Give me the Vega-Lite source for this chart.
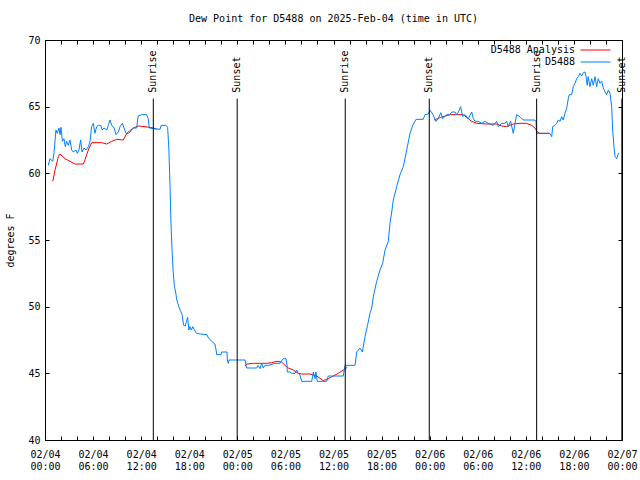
{
  "$schema": "https://vega.github.io/schema/vega-lite/v6.json",
  "width": 577,
  "height": 400,
  "autosize": "none",
  "padding": {"left": 45, "top": 40, "right": 18, "bottom": 40},
  "background": "white",
  "title": {"text": "Dew Point for D5488 on 2025-Feb-04 (time in UTC)", "font": "DejaVu Sans Mono", "fontSize": 10, "fontWeight": "normal", "color": "black", "offset": 11, "anchor": "middle"},
  "config": {
    "view": {"stroke": "black", "strokeWidth": 1},
    "axis": {"labelFont": "DejaVu Sans Mono", "labelFontSize": 10, "labelColor": "black", "titleFont": "DejaVu Sans Mono", "titleFontSize": 10, "titleFontWeight": "normal", "titleColor": "black", "grid": false, "domain": false, "tickColor": "black", "tickSize": -4, "labelOverlap": false, "labelFlush": false}
  },
  "datasets": {
    "ana": [
      {"t": "2025-02-04T00:58:00Z", "v": 59.4, "series": "D5488 Analysis", "seg": 1},
      {"t": "2025-02-04T01:15:00Z", "v": 60.25, "series": "D5488 Analysis", "seg": 1},
      {"t": "2025-02-04T01:40:00Z", "v": 61.25, "series": "D5488 Analysis", "seg": 1},
      {"t": "2025-02-04T01:52:00Z", "v": 61.45, "series": "D5488 Analysis", "seg": 1},
      {"t": "2025-02-04T02:30:00Z", "v": 61.1, "series": "D5488 Analysis", "seg": 1},
      {"t": "2025-02-04T03:07:00Z", "v": 60.9, "series": "D5488 Analysis", "seg": 1},
      {"t": "2025-02-04T03:44:00Z", "v": 60.7, "series": "D5488 Analysis", "seg": 1},
      {"t": "2025-02-04T04:47:00Z", "v": 60.7, "series": "D5488 Analysis", "seg": 1},
      {"t": "2025-02-04T04:59:00Z", "v": 61.0, "series": "D5488 Analysis", "seg": 1},
      {"t": "2025-02-04T05:24:00Z", "v": 61.75, "series": "D5488 Analysis", "seg": 1},
      {"t": "2025-02-04T05:50:00Z", "v": 62.3, "series": "D5488 Analysis", "seg": 1},
      {"t": "2025-02-04T07:05:00Z", "v": 62.3, "series": "D5488 Analysis", "seg": 1},
      {"t": "2025-02-04T07:42:00Z", "v": 62.2, "series": "D5488 Analysis", "seg": 1},
      {"t": "2025-02-04T08:19:00Z", "v": 62.4, "series": "D5488 Analysis", "seg": 1},
      {"t": "2025-02-04T08:57:00Z", "v": 62.55, "series": "D5488 Analysis", "seg": 1},
      {"t": "2025-02-04T09:46:00Z", "v": 62.5, "series": "D5488 Analysis", "seg": 1},
      {"t": "2025-02-04T10:12:00Z", "v": 63.0, "series": "D5488 Analysis", "seg": 1},
      {"t": "2025-02-04T11:01:00Z", "v": 63.4, "series": "D5488 Analysis", "seg": 1},
      {"t": "2025-02-04T11:38:00Z", "v": 63.55, "series": "D5488 Analysis", "seg": 1},
      {"t": "2025-02-04T12:29:00Z", "v": 63.5, "series": "D5488 Analysis", "seg": 1},
      {"t": "2025-02-04T13:31:00Z", "v": 63.4, "series": "D5488 Analysis", "seg": 1},
      {"t": "2025-02-04T13:56:00Z", "v": 63.3, "series": "D5488 Analysis", "seg": 1},
      {"t": "2025-02-05T00:58:00Z", "v": 45.55, "series": "D5488 Analysis", "seg": 2},
      {"t": "2025-02-05T01:10:00Z", "v": 45.7, "series": "D5488 Analysis", "seg": 2},
      {"t": "2025-02-05T02:00:00Z", "v": 45.75, "series": "D5488 Analysis", "seg": 2},
      {"t": "2025-02-05T03:02:00Z", "v": 45.75, "series": "D5488 Analysis", "seg": 2},
      {"t": "2025-02-05T03:40:00Z", "v": 45.75, "series": "D5488 Analysis", "seg": 2},
      {"t": "2025-02-05T04:17:00Z", "v": 45.8, "series": "D5488 Analysis", "seg": 2},
      {"t": "2025-02-05T04:55:00Z", "v": 45.9, "series": "D5488 Analysis", "seg": 2},
      {"t": "2025-02-05T05:32:00Z", "v": 45.85, "series": "D5488 Analysis", "seg": 2},
      {"t": "2025-02-05T05:57:00Z", "v": 45.6, "series": "D5488 Analysis", "seg": 2},
      {"t": "2025-02-05T06:22:00Z", "v": 45.4, "series": "D5488 Analysis", "seg": 2},
      {"t": "2025-02-05T06:59:00Z", "v": 45.25, "series": "D5488 Analysis", "seg": 2},
      {"t": "2025-02-05T07:36:00Z", "v": 45.0, "series": "D5488 Analysis", "seg": 2},
      {"t": "2025-02-05T08:02:00Z", "v": 44.95, "series": "D5488 Analysis", "seg": 2},
      {"t": "2025-02-05T09:04:00Z", "v": 44.95, "series": "D5488 Analysis", "seg": 2},
      {"t": "2025-02-05T09:54:00Z", "v": 44.8, "series": "D5488 Analysis", "seg": 2},
      {"t": "2025-02-05T10:44:00Z", "v": 44.45, "series": "D5488 Analysis", "seg": 2},
      {"t": "2025-02-05T11:21:00Z", "v": 44.6, "series": "D5488 Analysis", "seg": 2},
      {"t": "2025-02-05T11:58:00Z", "v": 44.8, "series": "D5488 Analysis", "seg": 2},
      {"t": "2025-02-05T12:36:00Z", "v": 45.0, "series": "D5488 Analysis", "seg": 2},
      {"t": "2025-02-05T13:13:00Z", "v": 45.25, "series": "D5488 Analysis", "seg": 2},
      {"t": "2025-02-05T13:43:00Z", "v": 45.45, "series": "D5488 Analysis", "seg": 2},
      {"t": "2025-02-06T00:32:00Z", "v": 64.0, "series": "D5488 Analysis", "seg": 3},
      {"t": "2025-02-06T00:58:00Z", "v": 64.1, "series": "D5488 Analysis", "seg": 3},
      {"t": "2025-02-06T01:23:00Z", "v": 64.2, "series": "D5488 Analysis", "seg": 3},
      {"t": "2025-02-06T02:32:00Z", "v": 64.4, "series": "D5488 Analysis", "seg": 3},
      {"t": "2025-02-06T04:12:00Z", "v": 64.4, "series": "D5488 Analysis", "seg": 3},
      {"t": "2025-02-06T04:49:00Z", "v": 64.1, "series": "D5488 Analysis", "seg": 3},
      {"t": "2025-02-06T05:15:00Z", "v": 63.9, "series": "D5488 Analysis", "seg": 3},
      {"t": "2025-02-06T05:52:00Z", "v": 63.75, "series": "D5488 Analysis", "seg": 3},
      {"t": "2025-02-06T07:07:00Z", "v": 63.7, "series": "D5488 Analysis", "seg": 3},
      {"t": "2025-02-06T08:22:00Z", "v": 63.7, "series": "D5488 Analysis", "seg": 3},
      {"t": "2025-02-06T08:59:00Z", "v": 63.55, "series": "D5488 Analysis", "seg": 3},
      {"t": "2025-02-06T09:36:00Z", "v": 63.5, "series": "D5488 Analysis", "seg": 3},
      {"t": "2025-02-06T10:00:00Z", "v": 63.6, "series": "D5488 Analysis", "seg": 3},
      {"t": "2025-02-06T10:26:00Z", "v": 63.7, "series": "D5488 Analysis", "seg": 3},
      {"t": "2025-02-06T11:16:00Z", "v": 63.75, "series": "D5488 Analysis", "seg": 3},
      {"t": "2025-02-06T12:06:00Z", "v": 63.75, "series": "D5488 Analysis", "seg": 3},
      {"t": "2025-02-06T12:44:00Z", "v": 63.6, "series": "D5488 Analysis", "seg": 3},
      {"t": "2025-02-06T13:08:00Z", "v": 63.4, "series": "D5488 Analysis", "seg": 3},
      {"t": "2025-02-06T13:26:00Z", "v": 63.1, "series": "D5488 Analysis", "seg": 3},
      {"t": "2025-02-06T13:46:00Z", "v": 63.0, "series": "D5488 Analysis", "seg": 3},
      {"t": "2025-02-06T15:00:00Z", "v": 63.0, "series": "D5488 Analysis", "seg": 3}
    ],
    "obs": [
      {"t": "2025-02-04T00:25:00Z", "v": 60.6, "series": "D5488"},
      {"t": "2025-02-04T00:37:00Z", "v": 61.1, "series": "D5488"},
      {"t": "2025-02-04T00:58:00Z", "v": 60.9, "series": "D5488"},
      {"t": "2025-02-04T01:07:00Z", "v": 61.5, "series": "D5488"},
      {"t": "2025-02-04T01:22:00Z", "v": 63.25, "series": "D5488"},
      {"t": "2025-02-04T01:32:00Z", "v": 63.0, "series": "D5488"},
      {"t": "2025-02-04T01:45:00Z", "v": 63.4, "series": "D5488"},
      {"t": "2025-02-04T01:52:00Z", "v": 62.9, "series": "D5488"},
      {"t": "2025-02-04T02:00:00Z", "v": 63.45, "series": "D5488"},
      {"t": "2025-02-04T02:10:00Z", "v": 62.4, "series": "D5488"},
      {"t": "2025-02-04T02:22:00Z", "v": 62.6, "series": "D5488"},
      {"t": "2025-02-04T02:32:00Z", "v": 62.0, "series": "D5488"},
      {"t": "2025-02-04T02:42:00Z", "v": 62.4, "series": "D5488"},
      {"t": "2025-02-04T02:55:00Z", "v": 62.1, "series": "D5488"},
      {"t": "2025-02-04T03:07:00Z", "v": 62.5, "series": "D5488"},
      {"t": "2025-02-04T03:20:00Z", "v": 61.75, "series": "D5488"},
      {"t": "2025-02-04T03:32:00Z", "v": 61.6, "series": "D5488"},
      {"t": "2025-02-04T03:52:00Z", "v": 61.75, "series": "D5488"},
      {"t": "2025-02-04T04:02:00Z", "v": 61.5, "series": "D5488"},
      {"t": "2025-02-04T04:14:00Z", "v": 61.75, "series": "D5488"},
      {"t": "2025-02-04T04:27:00Z", "v": 62.5, "series": "D5488"},
      {"t": "2025-02-04T04:37:00Z", "v": 61.6, "series": "D5488"},
      {"t": "2025-02-04T04:52:00Z", "v": 61.9, "series": "D5488"},
      {"t": "2025-02-04T05:07:00Z", "v": 61.75, "series": "D5488"},
      {"t": "2025-02-04T05:25:00Z", "v": 62.0, "series": "D5488"},
      {"t": "2025-02-04T05:37:00Z", "v": 62.4, "series": "D5488"},
      {"t": "2025-02-04T05:49:00Z", "v": 63.5, "series": "D5488"},
      {"t": "2025-02-04T06:02:00Z", "v": 63.75, "series": "D5488"},
      {"t": "2025-02-04T06:14:00Z", "v": 63.0, "series": "D5488"},
      {"t": "2025-02-04T06:27:00Z", "v": 63.5, "series": "D5488"},
      {"t": "2025-02-04T06:40:00Z", "v": 63.6, "series": "D5488"},
      {"t": "2025-02-04T06:57:00Z", "v": 63.6, "series": "D5488"},
      {"t": "2025-02-04T07:09:00Z", "v": 63.25, "series": "D5488"},
      {"t": "2025-02-04T07:22:00Z", "v": 63.4, "series": "D5488"},
      {"t": "2025-02-04T07:42:00Z", "v": 63.25, "series": "D5488"},
      {"t": "2025-02-04T07:54:00Z", "v": 63.6, "series": "D5488"},
      {"t": "2025-02-04T08:07:00Z", "v": 64.0, "series": "D5488"},
      {"t": "2025-02-04T08:19:00Z", "v": 63.6, "series": "D5488"},
      {"t": "2025-02-04T08:37:00Z", "v": 63.4, "series": "D5488"},
      {"t": "2025-02-04T08:52:00Z", "v": 62.9, "series": "D5488"},
      {"t": "2025-02-04T09:09:00Z", "v": 63.1, "series": "D5488"},
      {"t": "2025-02-04T09:22:00Z", "v": 63.5, "series": "D5488"},
      {"t": "2025-02-04T09:39:00Z", "v": 63.75, "series": "D5488"},
      {"t": "2025-02-04T09:52:00Z", "v": 63.4, "series": "D5488"},
      {"t": "2025-02-04T10:06:00Z", "v": 63.0, "series": "D5488"},
      {"t": "2025-02-04T10:24:00Z", "v": 63.0, "series": "D5488"},
      {"t": "2025-02-04T10:36:00Z", "v": 63.1, "series": "D5488"},
      {"t": "2025-02-04T11:01:00Z", "v": 63.4, "series": "D5488"},
      {"t": "2025-02-04T11:26:00Z", "v": 63.4, "series": "D5488"},
      {"t": "2025-02-04T11:38:00Z", "v": 64.3, "series": "D5488"},
      {"t": "2025-02-04T12:04:00Z", "v": 64.4, "series": "D5488"},
      {"t": "2025-02-04T12:41:00Z", "v": 64.4, "series": "D5488"},
      {"t": "2025-02-04T12:53:00Z", "v": 64.1, "series": "D5488"},
      {"t": "2025-02-04T13:01:00Z", "v": 63.4, "series": "D5488"},
      {"t": "2025-02-04T14:21:00Z", "v": 63.3, "series": "D5488"},
      {"t": "2025-02-04T14:30:00Z", "v": 63.6, "series": "D5488"},
      {"t": "2025-02-04T15:06:00Z", "v": 63.6, "series": "D5488"},
      {"t": "2025-02-04T15:18:00Z", "v": 63.45, "series": "D5488"},
      {"t": "2025-02-04T15:27:00Z", "v": 61.9, "series": "D5488"},
      {"t": "2025-02-04T15:36:00Z", "v": 59.1, "series": "D5488"},
      {"t": "2025-02-04T15:42:00Z", "v": 56.6, "series": "D5488"},
      {"t": "2025-02-04T15:51:00Z", "v": 54.25, "series": "D5488"},
      {"t": "2025-02-04T16:00:00Z", "v": 52.6, "series": "D5488"},
      {"t": "2025-02-04T16:09:00Z", "v": 51.5, "series": "D5488"},
      {"t": "2025-02-04T16:18:00Z", "v": 51.1, "series": "D5488"},
      {"t": "2025-02-04T16:27:00Z", "v": 50.5, "series": "D5488"},
      {"t": "2025-02-04T16:42:00Z", "v": 50.0, "series": "D5488"},
      {"t": "2025-02-04T16:54:00Z", "v": 49.7, "series": "D5488"},
      {"t": "2025-02-04T17:06:00Z", "v": 49.4, "series": "D5488"},
      {"t": "2025-02-04T17:18:00Z", "v": 48.6, "series": "D5488"},
      {"t": "2025-02-04T17:30:00Z", "v": 48.55, "series": "D5488"},
      {"t": "2025-02-04T17:39:00Z", "v": 48.9, "series": "D5488"},
      {"t": "2025-02-04T17:48:00Z", "v": 49.2, "series": "D5488"},
      {"t": "2025-02-04T17:57:00Z", "v": 48.25, "series": "D5488"},
      {"t": "2025-02-04T18:06:00Z", "v": 48.5, "series": "D5488"},
      {"t": "2025-02-04T18:15:00Z", "v": 48.25, "series": "D5488"},
      {"t": "2025-02-04T18:27:00Z", "v": 48.5, "series": "D5488"},
      {"t": "2025-02-04T18:39:00Z", "v": 48.25, "series": "D5488"},
      {"t": "2025-02-04T18:54:00Z", "v": 48.0, "series": "D5488"},
      {"t": "2025-02-04T19:24:00Z", "v": 47.95, "series": "D5488"},
      {"t": "2025-02-04T20:12:00Z", "v": 47.9, "series": "D5488"},
      {"t": "2025-02-04T20:24:00Z", "v": 47.65, "series": "D5488"},
      {"t": "2025-02-04T20:48:00Z", "v": 47.4, "series": "D5488"},
      {"t": "2025-02-04T21:12:00Z", "v": 47.2, "series": "D5488"},
      {"t": "2025-02-04T21:21:00Z", "v": 46.75, "series": "D5488"},
      {"t": "2025-02-04T21:25:00Z", "v": 46.4, "series": "D5488"},
      {"t": "2025-02-04T21:58:00Z", "v": 46.4, "series": "D5488"},
      {"t": "2025-02-04T22:03:00Z", "v": 46.6, "series": "D5488"},
      {"t": "2025-02-04T22:43:00Z", "v": 46.6, "series": "D5488"},
      {"t": "2025-02-04T22:45:00Z", "v": 46.0, "series": "D5488"},
      {"t": "2025-02-04T22:52:00Z", "v": 45.75, "series": "D5488"},
      {"t": "2025-02-04T22:58:00Z", "v": 46.0, "series": "D5488"},
      {"t": "2025-02-05T00:58:00Z", "v": 46.0, "series": "D5488"},
      {"t": "2025-02-05T01:10:00Z", "v": 45.4, "series": "D5488"},
      {"t": "2025-02-05T02:25:00Z", "v": 45.4, "series": "D5488"},
      {"t": "2025-02-05T02:35:00Z", "v": 45.6, "series": "D5488"},
      {"t": "2025-02-05T02:50:00Z", "v": 45.35, "series": "D5488"},
      {"t": "2025-02-05T03:02:00Z", "v": 45.75, "series": "D5488"},
      {"t": "2025-02-05T03:14:00Z", "v": 45.4, "series": "D5488"},
      {"t": "2025-02-05T03:27:00Z", "v": 45.6, "series": "D5488"},
      {"t": "2025-02-05T03:52:00Z", "v": 45.6, "series": "D5488"},
      {"t": "2025-02-05T04:42:00Z", "v": 45.75, "series": "D5488"},
      {"t": "2025-02-05T05:19:00Z", "v": 45.75, "series": "D5488"},
      {"t": "2025-02-05T05:44:00Z", "v": 46.1, "series": "D5488"},
      {"t": "2025-02-05T06:04:00Z", "v": 46.1, "series": "D5488"},
      {"t": "2025-02-05T06:12:00Z", "v": 45.6, "series": "D5488"},
      {"t": "2025-02-05T06:14:00Z", "v": 45.1, "series": "D5488"},
      {"t": "2025-02-05T06:34:00Z", "v": 45.1, "series": "D5488"},
      {"t": "2025-02-05T06:47:00Z", "v": 45.0, "series": "D5488"},
      {"t": "2025-02-05T07:12:00Z", "v": 45.0, "series": "D5488"},
      {"t": "2025-02-05T07:24:00Z", "v": 45.25, "series": "D5488"},
      {"t": "2025-02-05T07:36:00Z", "v": 45.0, "series": "D5488"},
      {"t": "2025-02-05T07:48:00Z", "v": 44.9, "series": "D5488"},
      {"t": "2025-02-05T08:02:00Z", "v": 44.4, "series": "D5488"},
      {"t": "2025-02-05T09:17:00Z", "v": 44.4, "series": "D5488"},
      {"t": "2025-02-05T09:29:00Z", "v": 45.1, "series": "D5488"},
      {"t": "2025-02-05T09:42:00Z", "v": 44.6, "series": "D5488"},
      {"t": "2025-02-05T09:48:00Z", "v": 45.1, "series": "D5488"},
      {"t": "2025-02-05T09:59:00Z", "v": 44.4, "series": "D5488"},
      {"t": "2025-02-05T11:09:00Z", "v": 44.4, "series": "D5488"},
      {"t": "2025-02-05T11:21:00Z", "v": 44.8, "series": "D5488"},
      {"t": "2025-02-05T13:13:00Z", "v": 44.8, "series": "D5488"},
      {"t": "2025-02-05T13:26:00Z", "v": 45.6, "series": "D5488"},
      {"t": "2025-02-05T14:41:00Z", "v": 45.6, "series": "D5488"},
      {"t": "2025-02-05T14:54:00Z", "v": 46.6, "series": "D5488"},
      {"t": "2025-02-05T15:18:00Z", "v": 46.9, "series": "D5488"},
      {"t": "2025-02-05T15:36:00Z", "v": 46.6, "series": "D5488"},
      {"t": "2025-02-05T15:56:00Z", "v": 47.75, "series": "D5488"},
      {"t": "2025-02-05T16:13:00Z", "v": 48.5, "series": "D5488"},
      {"t": "2025-02-05T16:33:00Z", "v": 49.5, "series": "D5488"},
      {"t": "2025-02-05T16:46:00Z", "v": 49.9, "series": "D5488"},
      {"t": "2025-02-05T16:58:00Z", "v": 50.75, "series": "D5488"},
      {"t": "2025-02-05T17:23:00Z", "v": 51.9, "series": "D5488"},
      {"t": "2025-02-05T17:48:00Z", "v": 52.75, "series": "D5488"},
      {"t": "2025-02-05T18:08:00Z", "v": 53.25, "series": "D5488"},
      {"t": "2025-02-05T18:26:00Z", "v": 54.25, "series": "D5488"},
      {"t": "2025-02-05T18:50:00Z", "v": 54.9, "series": "D5488"},
      {"t": "2025-02-05T19:03:00Z", "v": 56.25, "series": "D5488"},
      {"t": "2025-02-05T19:16:00Z", "v": 57.1, "series": "D5488"},
      {"t": "2025-02-05T19:28:00Z", "v": 58.0, "series": "D5488"},
      {"t": "2025-02-05T19:53:00Z", "v": 59.0, "series": "D5488"},
      {"t": "2025-02-05T20:18:00Z", "v": 59.9, "series": "D5488"},
      {"t": "2025-02-05T20:43:00Z", "v": 60.5, "series": "D5488"},
      {"t": "2025-02-05T21:08:00Z", "v": 61.75, "series": "D5488"},
      {"t": "2025-02-05T21:33:00Z", "v": 63.0, "series": "D5488"},
      {"t": "2025-02-05T21:53:00Z", "v": 63.6, "series": "D5488"},
      {"t": "2025-02-05T22:18:00Z", "v": 64.05, "series": "D5488"},
      {"t": "2025-02-05T23:12:00Z", "v": 64.05, "series": "D5488"},
      {"t": "2025-02-05T23:25:00Z", "v": 64.4, "series": "D5488"},
      {"t": "2025-02-05T23:50:00Z", "v": 64.45, "series": "D5488"},
      {"t": "2025-02-06T00:02:00Z", "v": 64.75, "series": "D5488"},
      {"t": "2025-02-06T00:23:00Z", "v": 64.45, "series": "D5488"},
      {"t": "2025-02-06T00:47:00Z", "v": 63.9, "series": "D5488"},
      {"t": "2025-02-06T01:05:00Z", "v": 64.1, "series": "D5488"},
      {"t": "2025-02-06T01:23:00Z", "v": 64.55, "series": "D5488"},
      {"t": "2025-02-06T01:38:00Z", "v": 64.1, "series": "D5488"},
      {"t": "2025-02-06T02:07:00Z", "v": 64.4, "series": "D5488"},
      {"t": "2025-02-06T02:32:00Z", "v": 64.4, "series": "D5488"},
      {"t": "2025-02-06T02:45:00Z", "v": 64.6, "series": "D5488"},
      {"t": "2025-02-06T03:10:00Z", "v": 64.6, "series": "D5488"},
      {"t": "2025-02-06T03:22:00Z", "v": 64.4, "series": "D5488"},
      {"t": "2025-02-06T03:35:00Z", "v": 64.6, "series": "D5488"},
      {"t": "2025-02-06T03:52:00Z", "v": 65.0, "series": "D5488"},
      {"t": "2025-02-06T04:07:00Z", "v": 64.25, "series": "D5488"},
      {"t": "2025-02-06T04:25:00Z", "v": 64.4, "series": "D5488"},
      {"t": "2025-02-06T04:49:00Z", "v": 64.1, "series": "D5488"},
      {"t": "2025-02-06T05:15:00Z", "v": 64.6, "series": "D5488"},
      {"t": "2025-02-06T05:27:00Z", "v": 64.1, "series": "D5488"},
      {"t": "2025-02-06T05:40:00Z", "v": 63.9, "series": "D5488"},
      {"t": "2025-02-06T06:04:00Z", "v": 63.9, "series": "D5488"},
      {"t": "2025-02-06T06:30:00Z", "v": 63.75, "series": "D5488"},
      {"t": "2025-02-06T06:54:00Z", "v": 63.9, "series": "D5488"},
      {"t": "2025-02-06T07:19:00Z", "v": 63.75, "series": "D5488"},
      {"t": "2025-02-06T07:56:00Z", "v": 63.6, "series": "D5488"},
      {"t": "2025-02-06T08:22:00Z", "v": 63.9, "series": "D5488"},
      {"t": "2025-02-06T08:34:00Z", "v": 63.5, "series": "D5488"},
      {"t": "2025-02-06T08:59:00Z", "v": 63.75, "series": "D5488"},
      {"t": "2025-02-06T09:24:00Z", "v": 63.75, "series": "D5488"},
      {"t": "2025-02-06T09:36:00Z", "v": 63.9, "series": "D5488"},
      {"t": "2025-02-06T09:48:00Z", "v": 63.5, "series": "D5488"},
      {"t": "2025-02-06T10:06:00Z", "v": 63.9, "series": "D5488"},
      {"t": "2025-02-06T10:26:00Z", "v": 63.0, "series": "D5488"},
      {"t": "2025-02-06T10:39:00Z", "v": 63.75, "series": "D5488"},
      {"t": "2025-02-06T10:51:00Z", "v": 64.4, "series": "D5488"},
      {"t": "2025-02-06T11:16:00Z", "v": 64.25, "series": "D5488"},
      {"t": "2025-02-06T11:41:00Z", "v": 64.0, "series": "D5488"},
      {"t": "2025-02-06T13:08:00Z", "v": 64.0, "series": "D5488"},
      {"t": "2025-02-06T13:16:00Z", "v": 63.9, "series": "D5488"},
      {"t": "2025-02-06T13:21:00Z", "v": 63.0, "series": "D5488"},
      {"t": "2025-02-06T15:00:00Z", "v": 63.0, "series": "D5488"},
      {"t": "2025-02-06T15:14:00Z", "v": 62.75, "series": "D5488"},
      {"t": "2025-02-06T15:21:00Z", "v": 63.5, "series": "D5488"},
      {"t": "2025-02-06T15:38:00Z", "v": 63.6, "series": "D5488"},
      {"t": "2025-02-06T15:51:00Z", "v": 63.75, "series": "D5488"},
      {"t": "2025-02-06T16:03:00Z", "v": 64.0, "series": "D5488"},
      {"t": "2025-02-06T16:16:00Z", "v": 63.9, "series": "D5488"},
      {"t": "2025-02-06T16:28:00Z", "v": 64.25, "series": "D5488"},
      {"t": "2025-02-06T16:40:00Z", "v": 64.0, "series": "D5488"},
      {"t": "2025-02-06T16:53:00Z", "v": 64.5, "series": "D5488"},
      {"t": "2025-02-06T17:06:00Z", "v": 64.9, "series": "D5488"},
      {"t": "2025-02-06T17:18:00Z", "v": 65.6, "series": "D5488"},
      {"t": "2025-02-06T17:25:00Z", "v": 65.9, "series": "D5488"},
      {"t": "2025-02-06T17:43:00Z", "v": 65.9, "series": "D5488"},
      {"t": "2025-02-06T17:55:00Z", "v": 66.5, "series": "D5488"},
      {"t": "2025-02-06T18:08:00Z", "v": 66.75, "series": "D5488"},
      {"t": "2025-02-06T18:21:00Z", "v": 67.1, "series": "D5488"},
      {"t": "2025-02-06T18:33:00Z", "v": 67.25, "series": "D5488"},
      {"t": "2025-02-06T18:46:00Z", "v": 67.5, "series": "D5488"},
      {"t": "2025-02-06T18:58:00Z", "v": 67.3, "series": "D5488"},
      {"t": "2025-02-06T19:10:00Z", "v": 67.55, "series": "D5488"},
      {"t": "2025-02-06T19:23:00Z", "v": 67.6, "series": "D5488"},
      {"t": "2025-02-06T19:30:00Z", "v": 67.3, "series": "D5488"},
      {"t": "2025-02-06T19:40:00Z", "v": 66.6, "series": "D5488"},
      {"t": "2025-02-06T19:47:00Z", "v": 67.25, "series": "D5488"},
      {"t": "2025-02-06T20:00:00Z", "v": 66.5, "series": "D5488"},
      {"t": "2025-02-06T20:13:00Z", "v": 67.1, "series": "D5488"},
      {"t": "2025-02-06T20:25:00Z", "v": 66.6, "series": "D5488"},
      {"t": "2025-02-06T20:38:00Z", "v": 67.25, "series": "D5488"},
      {"t": "2025-02-06T20:50:00Z", "v": 66.5, "series": "D5488"},
      {"t": "2025-02-06T21:02:00Z", "v": 67.1, "series": "D5488"},
      {"t": "2025-02-06T21:15:00Z", "v": 66.75, "series": "D5488"},
      {"t": "2025-02-06T21:28:00Z", "v": 66.9, "series": "D5488"},
      {"t": "2025-02-06T21:40:00Z", "v": 66.4, "series": "D5488"},
      {"t": "2025-02-06T21:53:00Z", "v": 66.1, "series": "D5488"},
      {"t": "2025-02-06T22:05:00Z", "v": 65.9, "series": "D5488"},
      {"t": "2025-02-06T22:18:00Z", "v": 66.25, "series": "D5488"},
      {"t": "2025-02-06T22:30:00Z", "v": 66.0, "series": "D5488"},
      {"t": "2025-02-06T22:43:00Z", "v": 65.0, "series": "D5488"},
      {"t": "2025-02-06T22:50:00Z", "v": 63.25, "series": "D5488"},
      {"t": "2025-02-06T23:00:00Z", "v": 62.0, "series": "D5488"},
      {"t": "2025-02-06T23:08:00Z", "v": 61.25, "series": "D5488"},
      {"t": "2025-02-06T23:20:00Z", "v": 61.1, "series": "D5488"},
      {"t": "2025-02-06T23:33:00Z", "v": 61.5, "series": "D5488"},
      {"t": "2025-02-06T23:40:00Z", "v": 61.5, "series": "D5488"}
    ],
    "sun": [
      {"t": "2025-02-04T13:31:00Z", "label": "Sunrise"},
      {"t": "2025-02-04T23:59:00Z", "label": "Sunset"},
      {"t": "2025-02-05T13:28:00Z", "label": "Sunrise"},
      {"t": "2025-02-05T23:57:00Z", "label": "Sunset"},
      {"t": "2025-02-06T13:21:00Z", "label": "Sunrise"},
      {"t": "2025-02-06T23:59:00Z", "label": "Sunset"}
    ]
  },
  "layer": [
    {
      "data": {"name": "ana"},
      "mark": {"type": "line", "strokeWidth": 1},
      "encoding": {
        "x": {"field": "t", "type": "temporal",
          "scale": {"type": "utc", "domain": [1738627200000, 1738886400000]},
          "axis": {"orient": "bottom", "title": null, "labels": false, "values": [1738627200000, 1738634400000, 1738641600000, 1738648800000, 1738656000000, 1738663200000, 1738670400000, 1738677600000, 1738684800000, 1738692000000, 1738699200000, 1738706400000, 1738713600000, 1738720800000, 1738728000000, 1738735200000, 1738742400000, 1738749600000, 1738756800000, 1738764000000, 1738771200000, 1738778400000, 1738785600000, 1738792800000, 1738800000000, 1738807200000, 1738814400000, 1738821600000, 1738828800000, 1738836000000, 1738843200000, 1738850400000, 1738857600000, 1738864800000, 1738872000000, 1738879200000, 1738886400000]}},
        "y": {"field": "v", "type": "quantitative",
          "scale": {"domain": [40, 70], "nice": false, "zero": false},
          "axis": {"title": "degrees F", "values": [40, 45, 50, 55, 60, 65, 70], "labelPadding": 9, "titlePadding": 12}},
        "color": {"field": "series", "type": "nominal",
          "scale": {"domain": ["D5488 Analysis", "D5488"], "range": ["#ff0000", "#0080ff"]},
          "legend": {"title": null, "orient": "none", "legendX": 545.5, "legendY": 5, "symbolType": "M-5,0H5", "symbolSize": 36, "symbolStrokeWidth": 1, "labelAlign": "right", "labelOffset": -25.5, "labelFont": "DejaVu Sans Mono", "labelFontSize": 10, "labelColor": "black", "rowPadding": 2, "padding": 0, "labelLimit": 300}},
        "detail": {"field": "seg", "type": "nominal"}
      }
    },
    {
      "data": {"name": "obs"},
      "mark": {"type": "line", "strokeWidth": 1},
      "encoding": {
        "x": {"field": "t", "type": "temporal",
          "axis": {"orient": "top", "title": null, "labels": false, "values": [1738627200000, 1738634400000, 1738641600000, 1738648800000, 1738656000000, 1738663200000, 1738670400000, 1738677600000, 1738684800000, 1738692000000, 1738699200000, 1738706400000, 1738713600000, 1738720800000, 1738728000000, 1738735200000, 1738742400000, 1738749600000, 1738756800000, 1738764000000, 1738771200000, 1738778400000, 1738785600000, 1738792800000, 1738800000000, 1738807200000, 1738814400000, 1738821600000, 1738828800000, 1738836000000, 1738843200000, 1738850400000, 1738857600000, 1738864800000, 1738872000000, 1738879200000, 1738886400000]}},
        "y": {"field": "v", "type": "quantitative",
          "axis": {"orient": "right", "title": null, "labels": false, "values": [40, 45, 50, 55, 60, 65, 70]}},
        "color": {"field": "series", "type": "nominal"}
      }
    },
    {
      "data": {"name": "sun"},
      "mark": {"type": "rule", "color": "black", "strokeWidth": 1},
      "encoding": {
        "x": {"field": "t", "type": "temporal",
          "axis": {"orient": "bottom", "title": null, "ticks": false, "format": "%m/%d", "labelPadding": 9, "labelBaseline": "top", "values": [1738627200000, 1738648800000, 1738670400000, 1738692000000, 1738713600000, 1738735200000, 1738756800000, 1738778400000, 1738800000000, 1738821600000, 1738843200000, 1738864800000, 1738886400000]}},
        "y": {"datum": 40, "type": "quantitative", "axis": null},
        "y2": {"datum": 65.6}
      }
    },
    {
      "data": {"name": "sun"},
      "mark": {"type": "text", "angle": 270, "align": "left", "baseline": "middle", "dx": 6, "font": "DejaVu Sans Mono", "fontSize": 10, "color": "black"},
      "encoding": {
        "x": {"field": "t", "type": "temporal",
          "axis": {"orient": "bottom", "title": null, "ticks": false, "format": "%H:%M", "labelPadding": 21, "labelBaseline": "top", "values": [1738627200000, 1738648800000, 1738670400000, 1738692000000, 1738713600000, 1738735200000, 1738756800000, 1738778400000, 1738800000000, 1738821600000, 1738843200000, 1738864800000, 1738886400000]}},
        "y": {"datum": 65.6, "type": "quantitative", "axis": null},
        "text": {"field": "label"}
      }
    }
  ],
  "resolve": {"axis": {"x": "independent", "y": "independent"}}
}
